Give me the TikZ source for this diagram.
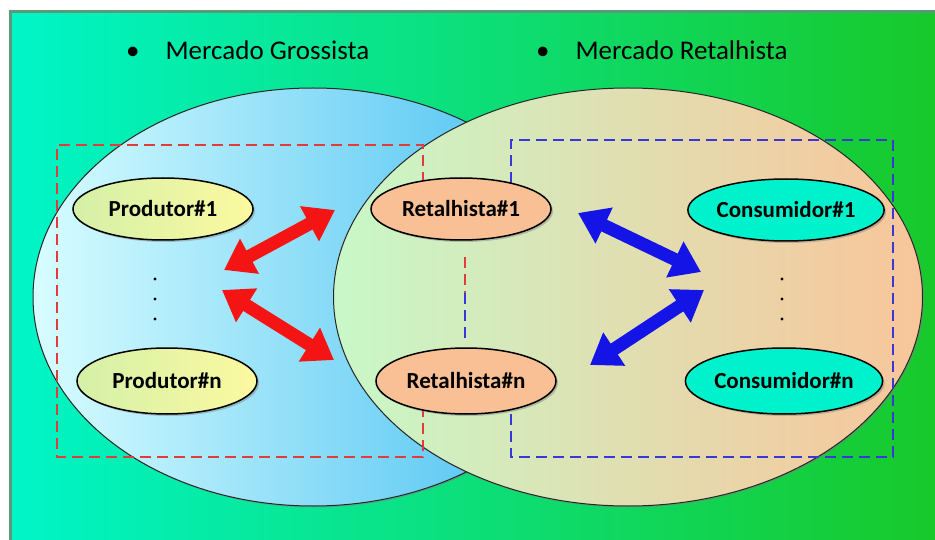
\documentclass[tikz,border=0pt]{standalone}
\usepackage{fontspec}
\setmainfont{Carlito}
\usetikzlibrary{shapes.geometric,arrows.meta,shadows}

\definecolor{bgL}{HTML}{00F5C8}
\definecolor{bgM}{HTML}{0AE8A0}
\definecolor{bgR}{HTML}{18C828}
\definecolor{frame}{HTML}{5A9A78}
\definecolor{redbox}{HTML}{E03C3C}
\definecolor{bluebox}{HTML}{3838D8}
\definecolor{redflow}{HTML}{F41414}
\definecolor{blueflow}{HTML}{1414E6}

\begin{document}
\begin{tikzpicture}[x=1pt,y=-1pt,
  market/.style={ellipse,draw=black!85,line width=1pt,inner sep=0pt,
    drop shadow={shadow xshift=1.5pt,shadow yshift=-1.5pt,opacity=.5}},
  agent/.style={ellipse,draw=black,line width=1.5pt,inner sep=0pt,
    minimum width=180pt,minimum height=62pt,
    font=\fontsize{23}{26}\selectfont\bfseries,
    drop shadow={shadow xshift=2pt,shadow yshift=-2pt,opacity=.45}},
  title/.style={font=\fontsize{27}{30}\selectfont,anchor=west,inner sep=0pt},
  wbox/.style={redbox,line width=2pt,dash pattern=on 11pt off 6pt},
  rbox/.style={bluebox,line width=2pt,dash pattern=on 11pt off 6pt},
  flow/.style={line width=13pt,
    {Triangle[length=29pt,width=38pt]}-{Triangle[length=29pt,width=38pt]}}]
\useasboundingbox (0,0) rectangle (935,540);
\fill[white] (0,0) rectangle (935,540);
\draw[frame,line width=3pt,left color=bgL,middle color=bgM,right color=bgR]
  (10,12) rectangle (945,550);

\node[title] (tg) at (126,50) {\textbullet\hskip 26pt Mercado Grossista};
\node[title] (tr) at (536,50) {\textbullet\hskip 26pt Mercado Retalhista};

\node[market,minimum width=560pt,minimum height=418pt,
  left color={rgb,255:red,216;green,253;blue,255},
  right color={rgb,255:red,64;green,188;blue,240}] (gross) at (313,297) {};
\node[market,minimum width=589pt,minimum height=418pt,
  left color={rgb,255:red,200;green,248;blue,200},
  right color={rgb,255:red,249;green,197;blue,154}] (retail) at (628,297) {};

\draw[wbox] (423,200) -- (423,145) -- (57,145) -- (57,457) -- (423,457) -- (423,400);
\draw[rbox] (511,200) -- (511,140) -- (893,140) -- (893,457) -- (511,457) -- (511,400);
\draw[wbox] (465,257) -- (465,293);
\draw[rbox] (465,293) -- (465,338);

\node[agent,left color={rgb,255:red,212;green,240;blue,168},
  right color={rgb,255:red,252;green,249;blue,160}] (p1) at (163,209) {Produtor\#1};
\node[agent,minimum height=66pt,left color={rgb,255:red,212;green,240;blue,168},
  right color={rgb,255:red,252;green,249;blue,160}] (pn) at (167,381) {Produtor\#n};
\node[agent,fill={rgb,255:red,248;green,192;blue,148}] (r1) at (461,209) {Retalhista\#1};
\node[agent,minimum height=66pt,fill={rgb,255:red,248;green,192;blue,148}] (rn) at (466,381) {Retalhista\#n};
\node[agent,fill={rgb,255:red,0;green,242;blue,204}] (c1) at (786,210) {Consumidor\#1};
\node[agent,minimum height=66pt,fill={rgb,255:red,0;green,242;blue,204}] (cn) at (784,381) {Consumidor\#n};

\foreach \y in {279,299,319} {
  \fill (155,\y) circle (1.6pt);
  \fill (782,\y) circle (1.6pt);
}

\coordinate (wa) at (224,270);
\coordinate (wb) at (335,210);
\coordinate (wc) at (222,290);
\coordinate (wd) at (334,360);
\coordinate (ra) at (578,213);
\coordinate (rb) at (701,272);
\coordinate (rc) at (704,290);
\coordinate (rd) at (590,365);
\draw[flow,redflow] (wa) -- (wb);
\draw[flow,redflow] (wc) -- (wd);
\draw[flow,blueflow] (ra) -- (rb);
\draw[flow,blueflow] (rc) -- (rd);
\end{tikzpicture}
\end{document}
